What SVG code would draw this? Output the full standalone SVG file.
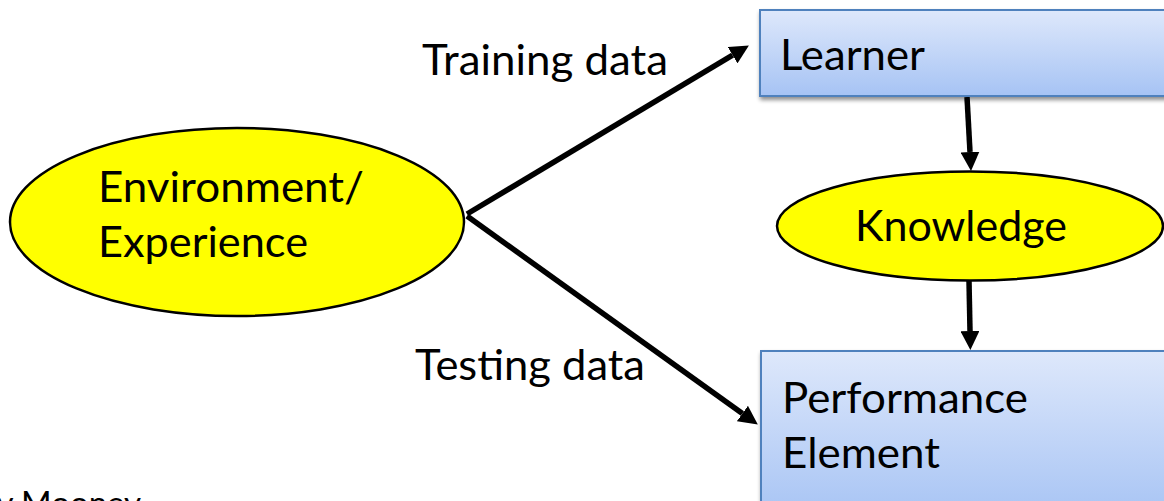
<svg xmlns="http://www.w3.org/2000/svg" width="1164" height="501" viewBox="0 0 1164 501">
  <style>
    .lbl { font-family: Lato, "Open Sans", "Liberation Sans", sans-serif; font-size: 42px; fill: #000; }
    .credit { font-family: Lato, "Open Sans", "Liberation Sans", sans-serif; font-size: 33px; fill: #000; }
    .oval { fill: #FFFF00; stroke: #000; stroke-width: 2.5; }
    .box { fill: url(#boxFill); stroke: #4F81BD; stroke-width: 2; filter: url(#shadow); }
    .edge { stroke: #000; stroke-width: 5.5; fill: none; marker-end: url(#head); }
  </style>
  <defs>
    <linearGradient id="boxFill" x1="0" y1="0" x2="0" y2="1">
      <stop offset="0" stop-color="#DEE8FB"/>
      <stop offset="1" stop-color="#A6C3F4"/>
    </linearGradient>
    <filter id="shadow" x="-5%" y="-10%" width="115%" height="130%">
      <feGaussianBlur in="SourceAlpha" stdDeviation="2"/>
      <feOffset dx="1" dy="3" result="b"/>
      <feComponentTransfer><feFuncA type="linear" slope="0.45"/></feComponentTransfer>
      <feMerge><feMergeNode/><feMergeNode in="SourceGraphic"/></feMerge>
    </filter>
    <marker id="head" markerUnits="userSpaceOnUse" viewBox="0 0 18 18" markerWidth="19" markerHeight="19" refX="0" refY="9" orient="auto">
      <path d="M0,0 L18,9 L0,18 z" fill="#000"/>
    </marker>
  </defs>

  <rect width="1164" height="501" fill="#FFFFFF"/>

  <!-- connectors -->
  <g id="connectors">
    <line class="edge" x1="467" y1="214" x2="732.6" y2="55.2"/>
    <line class="edge" x1="467" y1="216" x2="742.4" y2="413.5"/>
    <line class="edge" x1="967" y1="97" x2="970" y2="152"/>
    <line class="edge" x1="969" y1="281" x2="970" y2="331"/>
  </g>

  <g id="env">
    <ellipse class="oval" cx="237" cy="222" rx="227" ry="94"/>
    <text class="lbl" x="98" y="202" textLength="266" lengthAdjust="spacingAndGlyphs">Environment/</text>
    <text class="lbl" x="98" y="257" textLength="210" lengthAdjust="spacingAndGlyphs">Experience</text>
  </g>

  <g id="learner">
    <rect class="box" x="760" y="10" width="420" height="86"/>
    <text class="lbl" x="780" y="70" textLength="145" lengthAdjust="spacingAndGlyphs">Learner</text>
  </g>

  <g id="knowledge">
    <ellipse class="oval" cx="970" cy="226" rx="193" ry="54.5"/>
    <text class="lbl" x="855" y="241" textLength="212" lengthAdjust="spacingAndGlyphs">Knowledge</text>
  </g>

  <g id="performance">
    <rect class="box" x="761" y="351" width="420" height="170"/>
    <text class="lbl" x="782" y="413" textLength="246" lengthAdjust="spacingAndGlyphs">Performance</text>
    <text class="lbl" x="782" y="468" textLength="158" lengthAdjust="spacingAndGlyphs">Element</text>
  </g>

  <g id="edge-labels">
    <text class="lbl" x="422" y="75" textLength="246" lengthAdjust="spacingAndGlyphs">Training data</text>
    <text class="lbl" x="415" y="380" textLength="230" lengthAdjust="spacingAndGlyphs">Testing data</text>
  </g>

  <!-- credit line, running off the lower edge -->
  <text class="credit" x="-40" y="515">Ray Mooney</text>
</svg>
